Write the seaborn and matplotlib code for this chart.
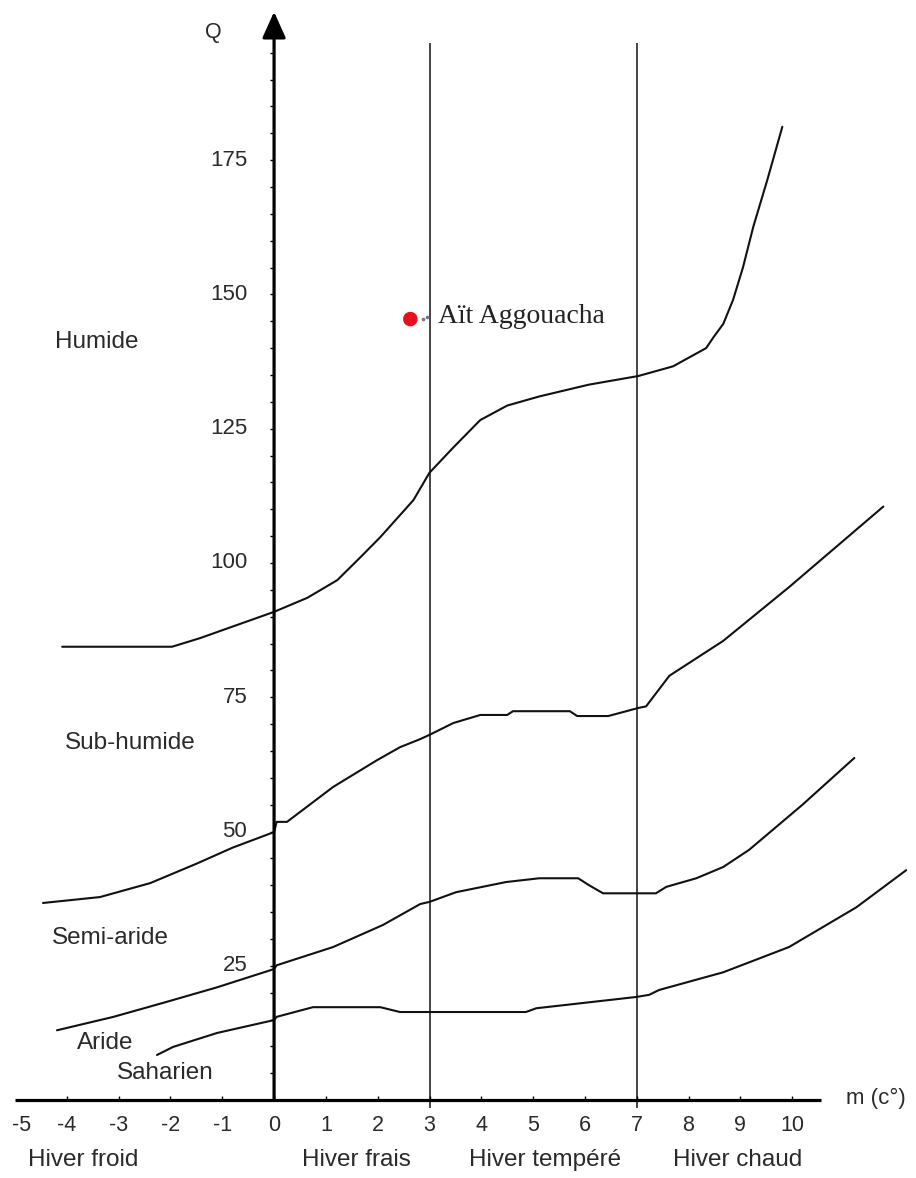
import matplotlib
matplotlib.use("Agg")
import matplotlib.pyplot as plt
import seaborn as sns
import numpy as np

sns.set_theme(style="white")
plt.rcParams["font.family"] = ["Liberation Sans", "DejaVu Sans"]

# Emberger climagram: boundaries between bioclimatic stages (m in degC, Q pluviothermic quotient)
humide_x = [-4.09, -1.97, -1.43, 0.0, 0.64, 1.22, 1.66, 2.05, 2.69, 3.0, 3.46, 3.98,
            4.5, 5.12, 6.08, 7.03, 7.7, 8.34, 8.48, 8.67, 8.86, 9.05, 9.25, 9.52, 9.81]
humide_q = [84.4, 84.4, 86.0, 90.9, 93.5, 96.8, 101.0, 104.8, 111.7, 116.8, 121.5, 126.6,
            129.3, 131.0, 133.2, 134.8, 136.6, 140.0, 142.0, 144.5, 149.0, 155.0, 162.6, 171.3, 181.2]

subhumide_x = [-4.46, -3.36, -2.39, -1.5, -0.8, 0.0, 0.05, 0.25, 1.14, 1.99, 2.43, 2.82, 3.0,
               3.46, 3.98, 4.5, 4.61, 5.71, 5.85, 6.45, 7.03, 7.18, 7.63, 8.67, 9.94, 11.76]
subhumide_q = [36.7, 37.8, 40.4, 44.0, 47.0, 49.9, 51.8, 51.8, 58.3, 63.3, 65.7, 67.2, 68.0,
               70.2, 71.7, 71.7, 72.4, 72.4, 71.5, 71.5, 73.0, 73.3, 79.0, 85.5, 95.5, 110.5]

semiaride_x = [-4.19, -3.1, -2.07, -1.1, 0.0, 0.05, 1.14, 2.1, 2.82, 3.0, 3.51, 4.48, 5.12,
               5.87, 6.08, 6.35, 7.37, 7.57, 8.15, 8.67, 9.17, 10.2, 11.2]
semiaride_q = [13.0, 15.5, 18.3, 21.0, 24.4, 25.1, 28.5, 32.6, 36.5, 36.9, 38.7, 40.6, 41.3,
               41.3, 40.0, 38.5, 38.5, 39.7, 41.3, 43.4, 46.6, 55.0, 63.7]

aride_x = [-2.26, -1.95, -1.1, 0.0, 0.05, 0.75, 2.05, 2.43, 4.86, 5.06, 6.99, 7.24, 7.43,
           8.67, 9.94, 11.24, 12.2]
aride_q = [8.4, 9.9, 12.5, 14.9, 15.5, 17.3, 17.3, 16.4, 16.4, 17.1, 19.2, 19.6, 20.5,
           23.8, 28.5, 35.9, 42.8]

# Station
station_name = "Aït Aggouacha"
station_m = [2.63]
station_q = [145.4]

x_ticks = list(range(-5, 11))
q_ticks = [25, 50, 75, 100, 125, 150, 175]
winter_labels = ["Hiver froid", "Hiver frais", "Hiver tempéré", "Hiver chaud"]
winter_pos = [-4.75, 0.54, 3.76, 7.70]
stage_labels = ["Humide", "Sub-humide", "Semi-aride", "Aride", "Saharien"]
stage_pos = [(-4.23, 141.2), (-4.03, 66.5), (-4.29, 30.2), (-3.80, 10.6), (-3.03, 5.0)]
winter_lines = [3, 7]

fig = plt.figure(figsize=(9.16, 11.78), dpi=100)
ax = fig.add_axes([0, 0, 1, 1])
ax.set_xlim(-5.29, 12.39)
ax.set_ylim(-14.5, 204.8)
ax.axis("off")

ink = "#111111"
txt = "#2a2a2a"

# Winter-type separators
ax.vlines(winter_lines, -1.5, 196.8, color="#444444", lw=1.4, zorder=2)

# Stage boundaries
for xs, qs in [(humide_x, humide_q), (subhumide_x, subhumide_q),
               (semiaride_x, semiaride_q), (aride_x, aride_q)]:
    sns.lineplot(x=xs, y=qs, ax=ax, color=ink, lw=1.5, sort=False,
                 estimator=None, zorder=3)

# Axes with arrow on Q
ax.plot([-5.0, 10.56], [0, 0], color="black", lw=2.3, solid_capstyle="butt", zorder=4)
ax.annotate("", xy=(0, 202.6), xytext=(0, 0),
            arrowprops=dict(arrowstyle="-|>,head_length=0.8,head_width=0.36",
                            mutation_scale=20, lw=2.3, color="black",
                            shrinkA=0, shrinkB=0), zorder=4)

# Tick marks
ax.vlines(x_ticks[1:], 0, 0.8, color="black", lw=1.0, zorder=4)
ax.hlines(np.arange(5, 200, 5), -0.08, 0, color="black", lw=1.0, zorder=4)

for xv in x_ticks:
    xl = xv + 0.12 if xv == -5 else xv
    ax.text(xl, -4.7, f"{xv}", ha="center", va="center", fontsize=15.5, color=txt)
for qv in q_ticks:
    ax.text(-0.52, qv, f"{qv}", ha="right", va="center", fontsize=16, color=txt)

ax.text(-1.18, 198.7, "Q", ha="center", va="center", fontsize=15.5, color=txt)
ax.text(11.04, 0.4, "m (c°)", ha="left", va="center", fontsize=16, color=txt)

for lab, xp in zip(winter_labels, winter_pos):
    ax.text(xp, -11.2, lab, ha="left", va="center", fontsize=17.5, color=txt)
for lab, (xp, qp) in zip(stage_labels, stage_pos):
    ax.text(xp, qp, lab, ha="left", va="center", fontsize=17.5, color=txt)

# Station point
sns.scatterplot(x=station_m, y=station_q, ax=ax, color="#e3121e", s=110,
                edgecolor="none", zorder=5)
ax.plot([2.88, 2.96], [station_q[0], station_q[0] + 0.3], ls="none", marker="o",
        ms=1.6, color="#777777", zorder=5)
ax.text(3.17, station_q[0] + 0.4, station_name, ha="left", va="center",
        fontsize=20, color="#222222", family=["Liberation Serif", "DejaVu Serif"])

fig.savefig("out.png", dpi=100, facecolor="white")
